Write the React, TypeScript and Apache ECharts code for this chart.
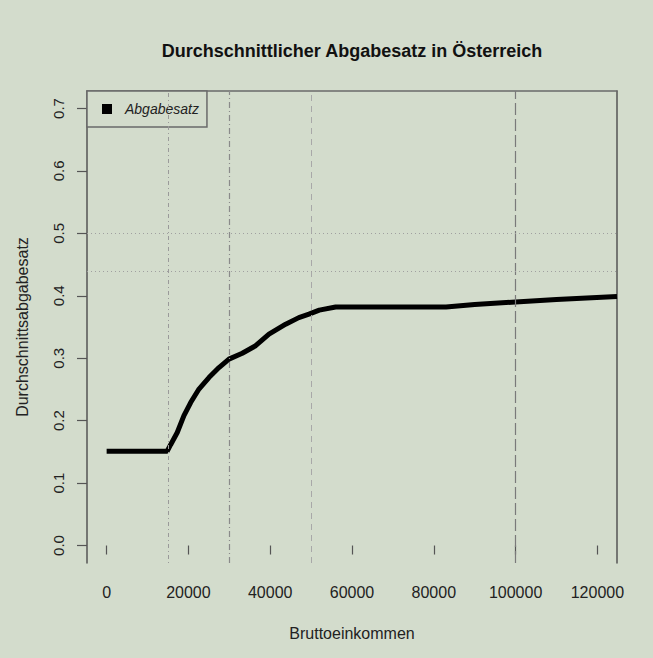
import React, { useEffect, useRef } from "react";
import * as echarts from "echarts";

const incomes = [0, 14800, 15650, 17270, 18900, 20550, 22580, 25020, 27470, 29910, 33170, 36440, 39700, 43780, 47000, 49480, 52000, 56000, 83000, 90000, 100000, 110000, 124800];
const rates = [0.151, 0.151, 0.1615, 0.181, 0.208, 0.229, 0.2506, 0.269, 0.285, 0.2986, 0.308, 0.32, 0.3386, 0.3545, 0.365, 0.3705, 0.377, 0.382, 0.382, 0.386, 0.39, 0.394, 0.399];
const xTicks = [0, 20000, 40000, 60000, 80000, 100000, 120000];
const yTicks = [0, 0.1, 0.2, 0.3, 0.4, 0.5, 0.6, 0.7];
const verticalMarks = [15000, 30000, 50000, 100000];
const horizontalMarks = [0.5, 0.44];

const BG = "#d3dccc";
const FONT = "'Liberation Sans', Arial, sans-serif";

export default function App() {
  const ref = useRef<HTMLDivElement>(null);
  useEffect(() => {
    const chart = echarts.init(ref.current!, null, { renderer: "svg" });
    const vStyles = [
      { color: "#9a9a9a", type: [1, 3, 4, 3], width: 1 },
      { color: "#8a8a8a", type: [6, 3, 1, 3], width: 1.2 },
      { color: "#a8a8a8", type: [6, 5], width: 1 },
      { color: "#7a7a7a", type: [12, 4], width: 1.2 },
    ];
    const markData: any[] = [
      ...verticalMarks.map((v, i) => ({ xAxis: v, lineStyle: vStyles[i] })),
      ...horizontalMarks.map((v) => ({ yAxis: v, lineStyle: { color: "#a0a0a0", type: [1, 3], width: 1 } })),
    ];
    chart.setOption({
      animation: false,
      backgroundColor: BG,
      textStyle: { fontFamily: FONT },
      grid: { left: 87, right: 36, top: 91, bottom: 95, containLabel: false },
      graphic: [
        {
          type: "text",
          x: 352,
          y: 51,
          style: {
            text: "Durchschnittlicher Abgabesatz in Österreich",
            font: `bold 18px ${FONT}`,
            fill: "#111",
            textAlign: "center",
            textVerticalAlign: "middle",
          },
        },
      ],
      legend: {
        data: [{ name: "Abgabesatz", icon: "rect" }],
        left: 87,
        top: 91,
        orient: "vertical",
        itemWidth: 10,
        itemHeight: 10,
        padding: [11, 8, 11, 15],
        borderColor: "#6a6a6a",
        borderWidth: 1.5,
        backgroundColor: BG,
        textStyle: { fontFamily: FONT, fontStyle: "italic", fontSize: 14, color: "#222", padding: [0, 0, 0, 8] },
      },
      xAxis: [
        {
          type: "value",
          min: -4800,
          max: 124800,
          offset: 2,
          name: "Bruttoeinkommen",
          nameLocation: "middle",
          nameGap: 60,
          nameTextStyle: { fontFamily: FONT, fontSize: 16, color: "#222" },
          axisLine: { show: false },
          axisTick: { show: true, length: 9, customValues: xTicks, lineStyle: { color: "#555", width: 1.2 } },
          axisLabel: {
            customValues: xTicks,
            formatter: (v: number) => String(v),
            fontFamily: FONT,
            fontSize: 16,
            color: "#222",
            margin: 19,
          },
          splitLine: { show: false },
        },
        {
          type: "value",
          position: "top",
          min: -4800,
          max: 124800,
          axisLine: { show: true, onZero: false, lineStyle: { color: "#6a6a6a", width: 1.5 } },
          axisTick: { show: false },
          axisLabel: { show: false },
          splitLine: { show: false },
        },
      ],
      yAxis: [
        {
          type: "value",
          min: -0.028,
          max: 0.728,
          name: "Durchschnittsabgabesatz",
          nameLocation: "middle",
          nameGap: 57,
          nameRotate: 90,
          nameTextStyle: { fontFamily: FONT, fontSize: 16, color: "#222" },
          axisLine: { show: true, onZero: false, lineStyle: { color: "#555", width: 1.5 } },
          axisTick: { show: true, length: 10, customValues: yTicks, lineStyle: { color: "#555", width: 1.2 } },
          axisLabel: {
            customValues: yTicks,
            formatter: (v: number) => v.toFixed(1),
            rotate: 90,
            fontFamily: FONT,
            fontSize: 15,
            color: "#222",
            margin: 21,
          },
          splitLine: { show: false },
        },
        {
          type: "value",
          position: "right",
          min: -0.028,
          max: 0.728,
          axisLine: { show: true, onZero: false, lineStyle: { color: "#555", width: 1.5 } },
          axisTick: { show: false },
          axisLabel: { show: false },
          splitLine: { show: false },
        },
      ],
      series: [
        {
          name: "refs",
          type: "line",
          data: [],
          z: 1,
          silent: true,
          markLine: {
            silent: true,
            symbol: ["none", "none"],
            label: { show: false },
            data: markData,
          },
        },
        {
          name: "Abgabesatz",
          type: "line",
          z: 3,
          showSymbol: false,
          symbol: "none",
          itemStyle: { color: "#000" },
          lineStyle: { color: "#000", width: 5 },
          data: incomes.map((x, i) => [x, rates[i]]),
        },
      ],
    });
    return () => chart.dispose();
  }, []);
  return (
    <div style={{ position: "fixed", left: 0, top: 0, width: 653, height: 658, background: BG }}>
      <div ref={ref} style={{ width: 653, height: 658 }} />
    </div>
  );
}
